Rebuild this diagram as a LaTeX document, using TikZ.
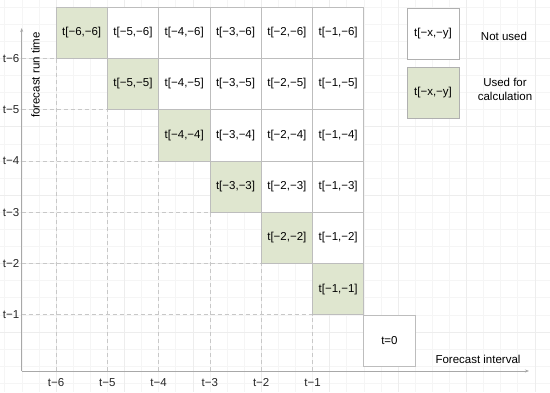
\documentclass[tikz,border=0pt]{standalone}
\usepackage{fontspec}
\setmainfont{Liberation Sans}
\usetikzlibrary{arrows.meta}
\definecolor{cellgreen}{HTML}{DFE6CF}
\definecolor{cellborder}{HTML}{BDBDBD}
\definecolor{legborder}{HTML}{B0B0B0}
\definecolor{axisgray}{HTML}{A8A8A8}
\definecolor{dashgray}{HTML}{C8C8C8}
\definecolor{gridminor}{HTML}{F5F5F5}
\definecolor{gridmajor}{HTML}{EDEDED}
\begin{document}
\begin{tikzpicture}[x=1pt,y=-1pt,
  font=\fontsize{11.5}{13}\selectfont,
  cellbox/.style={draw=cellborder,line width=0.7pt,fill=white,minimum width=51.3pt,minimum height=51.3pt,inner sep=0pt,outer sep=0pt},
  usedbox/.style={cellbox,fill=cellgreen},
  legbox/.style={draw=legborder,line width=0.8pt,fill=white,minimum width=52pt,minimum height=51pt,inner sep=0pt,outer sep=0pt},
  legused/.style={legbox,fill=cellgreen},
  axisline/.style={draw=axisgray,line width=0.8pt,-{Stealth[length=4pt,width=3pt]}},
  guideline/.style={draw=dashgray,line width=0.7pt,dash pattern=on 4pt off 3pt},
  ticklabel/.style={inner sep=0pt,text=black!85}]
\useasboundingbox (0,0) rectangle (550,392);
\fill[white] (0,0) rectangle (550,392);
% faint background grid
\foreach \i in {-3,...,29} {\draw[gridminor,line width=0.5pt] ({56+17.1*\i},0) -- ({56+17.1*\i},392);}
\foreach \j in {-1,...,23} {\draw[gridminor,line width=0.5pt] (0,{7+17.1*\j}) -- (550,{7+17.1*\j});}
\foreach \i in {0,...,7} {\draw[gridmajor,line width=0.5pt] ({56+68.4*(\i-0)},0) -- ({56+68.4*\i},392);}
\foreach \j in {0,...,5} {\draw[gridmajor,line width=0.5pt] (0,{58.3+68.4*\j}) -- (550,{58.3+68.4*\j});}
% axes
\coordinate (origin) at (21.7,371);
\coordinate (ytop) at (21.7,28);
\coordinate (xend) at (529,371);
% dashed guides and tick labels
\foreach \k in {0,...,5} {
  \pgfmathsetmacro{\xx}{56+51.3*\k}
  \pgfmathsetmacro{\yy}{58.3+51.3*\k}
  \pgfmathtruncatemacro{\lab}{6-\k}
  \coordinate (gy\k) at (21.7,\yy);
  \coordinate (gc\k) at (\xx,\yy);
  \coordinate (gx\k) at (\xx,371);
  \draw[guideline] (gy\k) -- (gc\k) -- (gx\k);
  \node[ticklabel,anchor=east] (ly\k) at (19.5,\yy) {t−\lab};
  \node[ticklabel] (lx\k) at (\xx,383) {t−\lab};
}
\draw[axisline] (origin) -- (ytop);
\draw[axisline] (origin) -- (xend);
% cells
\foreach \b in {6,...,1} {
  \foreach \a in {\b,...,1} {
    \pgfmathsetmacro{\cx}{56+51.3*(6-\a)+25.65}
    \pgfmathsetmacro{\cy}{7+51.3*(6-\b)+25.65}
    \ifnum\a=\b
      \node[usedbox] (c\a-\b) at (\cx,\cy) {t[−\a,−\b]};
    \else
      \node[cellbox] (c\a-\b) at (\cx,\cy) {t[−\a,−\b]};
    \fi
  }
}
\node[cellbox] (tzero) at (389.45,340.75) {t=0};
% axis labels
\node[rotate=90,inner sep=0pt] (ylab) at (35.5,75) {forecast run time};
\node[inner sep=0pt] (xlab) at (478,359) {Forecast interval};
% legend
\node[legbox] (legnot) at (433,33.5) {t[−x,−y]};
\node[legused] (legused) at (433,92.5) {t[−x,−y]};
\node[inner sep=0pt] (legnottext) at (504,36) {Not used};
\node[inner sep=0pt,align=center,font=\fontsize{11.5}{14}\selectfont] (legusedtext) at (505,89) {Used for\\calculation};
\end{tikzpicture}
\end{document}
